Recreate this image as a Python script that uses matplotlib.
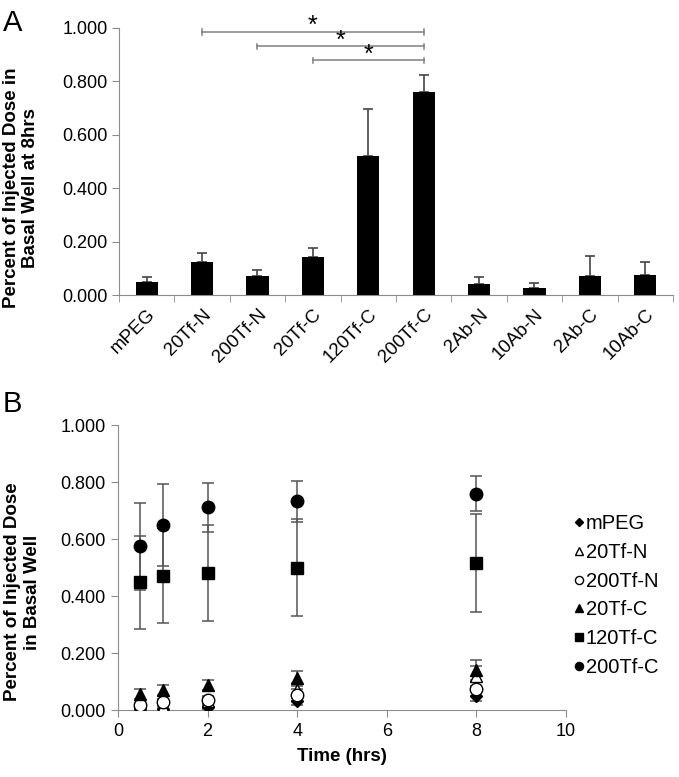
import numpy as np
import matplotlib.pyplot as plt

plt.rcParams['font.family'] = ['Liberation Sans', 'DejaVu Sans']

# panel A: percent of injected dose at 8 hrs
groups = ["mPEG", "20Tf-N", "200Tf-N", "20Tf-C", "120Tf-C", "200Tf-C",
          "2Ab-N", "10Ab-N", "2Ab-C", "10Ab-C"]
dose_8h = [0.048, 0.124, 0.073, 0.141, 0.519, 0.762, 0.043, 0.028, 0.073, 0.074]
dose_8h_err = [0.020, 0.034, 0.022, 0.035, 0.179, 0.063, 0.025, 0.018, 0.072, 0.049]

# significance brackets (from group, to group)
brackets = [("20Tf-N", "200Tf-C"), ("200Tf-N", "200Tf-C"), ("20Tf-C", "200Tf-C")]
bracket_y = [0.985, 0.931, 0.879]

# panel B: time course
times = [0.5, 1, 2, 4, 8]
series = ["mPEG", "20Tf-N", "200Tf-N", "20Tf-C", "120Tf-C", "200Tf-C"]
mpeg = [0.005, 0.005, 0.012, 0.030, 0.048]
mpeg_err = [0.005, 0.006, 0.008, 0.012, 0.018]
tf20n = [0.002, 0.010, 0.030, 0.070, 0.120]
tf20n_err = [0.006, 0.008, 0.015, 0.025, 0.035]
tf200n = [0.018, 0.027, 0.035, 0.053, 0.074]
tf200n_err = [0.008, 0.010, 0.015, 0.020, 0.025]
tf20c = [0.056, 0.070, 0.088, 0.111, 0.141]
tf20c_err = [0.017, 0.018, 0.017, 0.026, 0.035]
tf120c = [0.448, 0.471, 0.481, 0.499, 0.516]
tf120c_err = [0.164, 0.167, 0.169, 0.170, 0.173]
tf200c = [0.574, 0.649, 0.711, 0.732, 0.759]
tf200c_err = [0.153, 0.144, 0.085, 0.073, 0.061]

spine_col = "#8c8c8c"
tick_fs = 13
lab_fs = 13.5

fig = plt.figure(figsize=(6.79, 7.77), dpi=100)

# ---- panel A ----
ax1 = fig.add_axes([0.1753, 0.6203, 0.8157, 0.3437])
x = np.arange(len(groups))
ax1.bar(x, dose_8h, width=0.4, color="black", zorder=3)
ax1.errorbar(x, dose_8h, yerr=[np.zeros(len(groups)), dose_8h_err], fmt="none",
             ecolor="#444444", elinewidth=1.2, capsize=3.5, capthick=1.2, zorder=2)

for (a, b), yb in zip(brackets, bracket_y):
    xa, xb = groups.index(a), groups.index(b)
    ax1.plot([xa, xb], [yb, yb], color="#808080", lw=1.1, clip_on=False)
    ax1.plot([xa, xa], [yb - 0.01, yb + 0.01], color="#808080", lw=1.1, clip_on=False)
    ax1.plot([xb, xb], [yb - 0.01, yb + 0.01], color="#808080", lw=1.1, clip_on=False)
    ax1.text((xa + xb) / 2, yb + 0.022, "*", ha="center", va="center", fontsize=18, clip_on=False)

ax1.set_xlim(-0.5, len(groups) - 0.5)
ax1.set_ylim(0, 1.0)
ax1.set_yticks(np.arange(0, 1.01, 0.2))
ax1.set_yticklabels(["%.3f" % v for v in np.arange(0, 1.01, 0.2)], fontsize=tick_fs)
ax1.set_xticks(x)
ax1.set_xticklabels(groups, rotation=45, ha="right", va="top", rotation_mode="anchor", fontsize=13.5)
ax1.set_xticks(np.arange(-0.5, len(groups)), minor=True)
ax1.tick_params(axis="x", which="major", length=0, pad=8)
ax1.tick_params(axis="x", which="minor", length=5, color=spine_col)
ax1.tick_params(axis="y", length=5, color=spine_col, pad=3)
for s in ["top", "right"]:
    ax1.spines[s].set_visible(False)
for s in ["left", "bottom"]:
    ax1.spines[s].set_color(spine_col)
fig.text(0.031, 0.758, "Percent of Injected Dose in\nBasal Well at 8hrs", rotation=90,
         ha="center", va="center", fontsize=lab_fs, fontweight="bold", multialignment="center")
fig.text(0.004, 0.988, "A", fontsize=21, ha="left", va="top")

# ---- panel B ----
ax2 = fig.add_axes([0.1738, 0.0862, 0.6598, 0.3668])
styles = [
    (mpeg, mpeg_err, dict(marker="D", ms=6, mfc="black", mec="black")),
    (tf20n, tf20n_err, dict(marker="^", ms=8, mfc="white", mec="black")),
    (tf200n, tf200n_err, dict(marker="o", ms=9, mfc="white", mec="black")),
    (tf20c, tf20c_err, dict(marker="^", ms=8, mfc="black", mec="black")),
    (tf120c, tf120c_err, dict(marker="s", ms=9, mfc="black", mec="black")),
    (tf200c, tf200c_err, dict(marker="o", ms=9, mfc="black", mec="black")),
]
handles = []
for name, (vals, err, st) in zip(series, styles):
    ax2.errorbar(times, vals, yerr=err, fmt="none", ecolor="#555555",
                 elinewidth=1.1, capsize=4, capthick=1.1, zorder=2)
    h, = ax2.plot(times, vals, linestyle="none", zorder=3, label=name, **st)
    handles.append(h)

ax2.set_xlim(0, 10)
ax2.set_ylim(0, 1.0)
ax2.set_xticks(np.arange(0, 11, 2))
ax2.set_xticklabels([str(v) for v in range(0, 11, 2)], fontsize=tick_fs)
ax2.set_yticks(np.arange(0, 1.01, 0.2))
ax2.set_yticklabels(["%.3f" % v for v in np.arange(0, 1.01, 0.2)], fontsize=tick_fs)
ax2.tick_params(length=5, color=spine_col, pad=4)
for s in ["top", "right"]:
    ax2.spines[s].set_visible(False)
for s in ["left", "bottom"]:
    ax2.spines[s].set_color(spine_col)
ax2.set_xlabel("Time (hrs)", fontsize=lab_fs, fontweight="bold", labelpad=6)
fig.text(0.033, 0.238, "Percent of Injected Dose\nin Basal Well", rotation=90,
         ha="center", va="center", fontsize=lab_fs, fontweight="bold", multialignment="center")
fig.text(0.004, 0.498, "B", fontsize=21, ha="left", va="top")

leg = fig.legend(handles=handles, loc="upper left", bbox_to_anchor=(0.845, 0.338),
                 frameon=False, fontsize=14.5, handlelength=0.5, handletextpad=0.1,
                 labelspacing=0.48, markerscale=0.65, borderaxespad=0, borderpad=0)

fig.savefig("out.png", dpi=100)
